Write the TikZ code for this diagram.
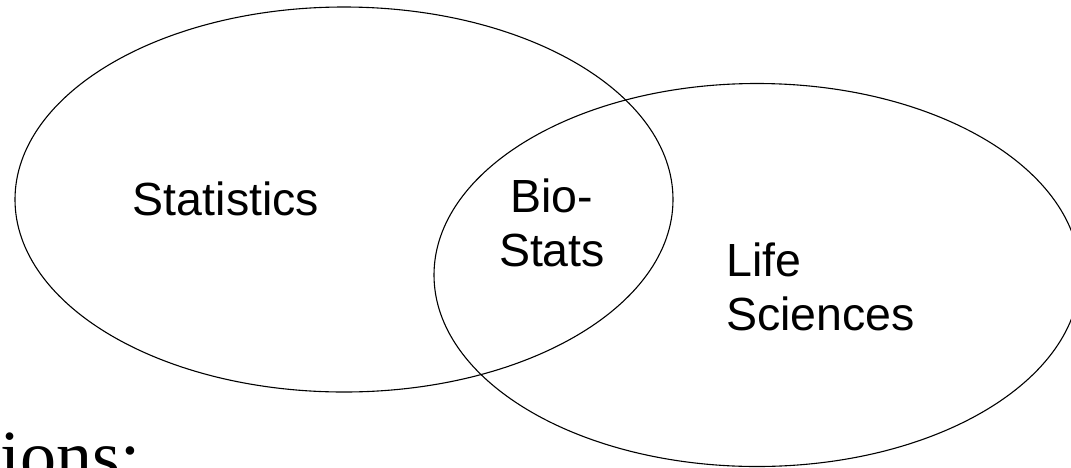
\documentclass[tikz,border=0pt]{standalone}
\usepackage{fontspec}
\setmainfont{Liberation Sans}
\newfontfamily\titlefont{Liberation Serif}
\usetikzlibrary{shapes.geometric}

\begin{document}
\begin{tikzpicture}[x=0.5pt, y=-0.5pt,
	set/.style={draw, ellipse, inner sep=0pt, line width=0.55pt},
	setlabel/.style={inner sep=0pt, font=\fontsize{23.25}{27}\selectfont}]
	\useasboundingbox (0,0) rectangle (1071,467);
	% the two sets
	\node[set, minimum width=329pt, minimum height=192.5pt] (stat) at (344,199.5) {};
	\node[set, minimum width=323pt, minimum height=191.5pt] (life) at (757,275) {};
	% labels
	\node[setlabel, anchor=base] (statlabel) at (226,215) {Statistics};
	\node[setlabel, align=center] (biolabel) at (552,223) {Bio-\\Stats};
	\node[setlabel, align=left, anchor=west] (lifelabel) at (726,286.5) {Life\\Sciences};
	% heading cut off by the lower edge
	\node[inner sep=0pt, anchor=base east, font=\titlefont\fontsize{36}{42}\selectfont] (title) at (141,480) {ions:};
\end{tikzpicture}
\end{document}
